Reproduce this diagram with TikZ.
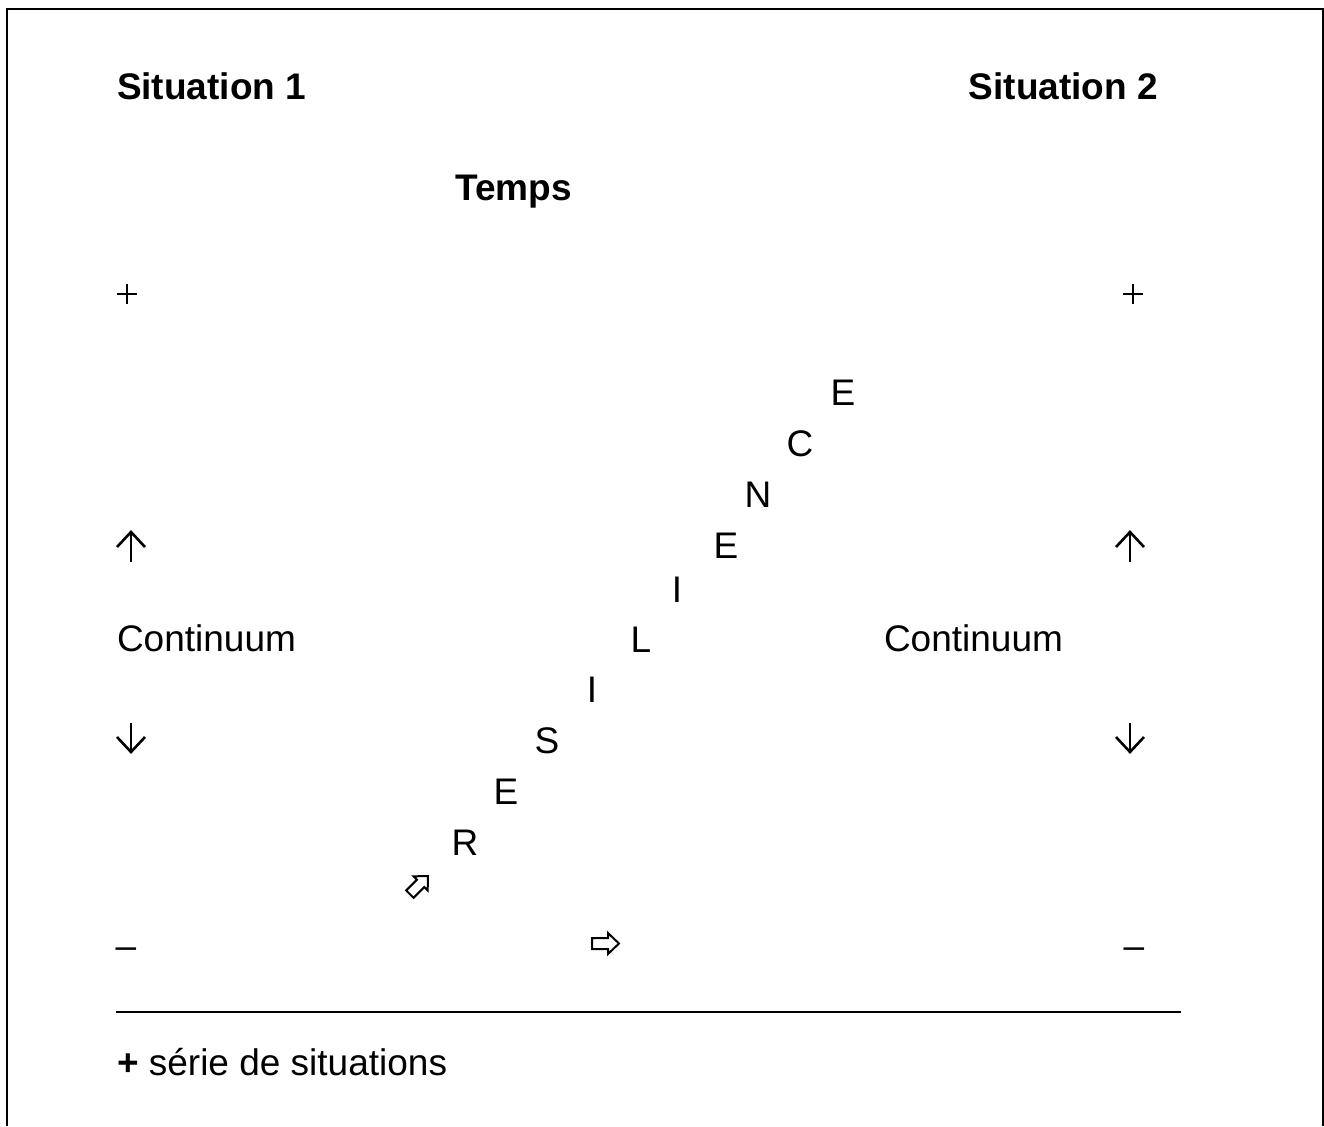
\documentclass[tikz,border=0pt]{standalone}
\usepackage{fontspec}
\setmainfont{Liberation Sans}
\begin{document}
\begin{tikzpicture}[x=0.5pt,y=-0.5pt,
  every node/.style={inner sep=0pt,outer sep=0pt,font=\fontsize{18.5pt}{22pt}\selectfont},
  heading/.style={font=\fontsize{18.5pt}{22pt}\selectfont\bfseries},
  letter/.style={anchor=center},
  thinarrow/.style={line width=1.3pt,line cap=butt,line join=miter},
  plussign/.pic={\draw[line width=0.85pt] (-10,0) -- (10,0) (0,-10) -- (0,10);},
  hollow/.pic={\draw[line width=1pt,line join=miter]
    (-27,-5.5) -- (-11,-5.5) -- (-11,-10.5) -- (0,0) -- (-11,10.5) -- (-11,5.5) -- (-27,5.5) -- cycle;}]
\useasboundingbox (0,0) rectangle (1324,1126);
% open frame
\draw[line width=1pt] (7,1126) -- (7,9) -- (1323,9) -- (1323,1126);

% headings
\node[heading,anchor=base west] (s1) at (117,99) {Situation 1};
\node[heading,anchor=base east] (s2) at (1158,99) {Situation 2};
\node[heading,anchor=base] (temps) at (513.5,200) {Temps};

% ends of the two scales
\pic at (127,294) {plussign};
\pic at (1133,294) {plussign};
\node (minusL) at (126,953) {–};
\node (minusR) at (1134,953) {–};

% scale labels
\node[anchor=base west] (contL) at (117,651) {Continuum};
\node[anchor=base west] (contR) at (884,651) {Continuum};

% up and down arrows on both scales
\draw[thinarrow] (131,562) -- (131,532);
\draw[thinarrow] (117,547) -- (131,532) -- (145,547);
\draw[thinarrow] (131,723) -- (131,752);
\draw[thinarrow] (117,737) -- (131,752) -- (145,737);
\draw[thinarrow] (1130,562) -- (1130,532);
\draw[thinarrow] (1116,547) -- (1130,532) -- (1144,547);
\draw[thinarrow] (1130,723) -- (1130,752);
\draw[thinarrow] (1116,737) -- (1130,752) -- (1144,737);

% diagonal word
\node[letter] (r1) at (465,843) {R};
\node[letter] (r2) at (506,792) {E};
\node[letter] (r3) at (547,741) {S};
\node[letter] (r4) at (592,690) {I};
\node[letter] (r5) at (641,640) {L};
\node[letter] (r6) at (677,590) {I};
\node[letter] (r7) at (726,546) {E};
\node[letter] (r8) at (758,495) {N};
\node[letter] (r9) at (800,444) {C};
\node[letter] (r10) at (843,393) {E};

% outlined arrows
\pic[rotate=45,scale=0.95] at (428,876) {hollow};
\pic at (619,943.5) {hollow};

% base rule and caption
\draw[line width=0.75pt] (116,1012) -- (1181,1012);
\node[anchor=base west] (serie) at (117,1075) {\textbf{+} série de situations};
\end{tikzpicture}
\end{document}
